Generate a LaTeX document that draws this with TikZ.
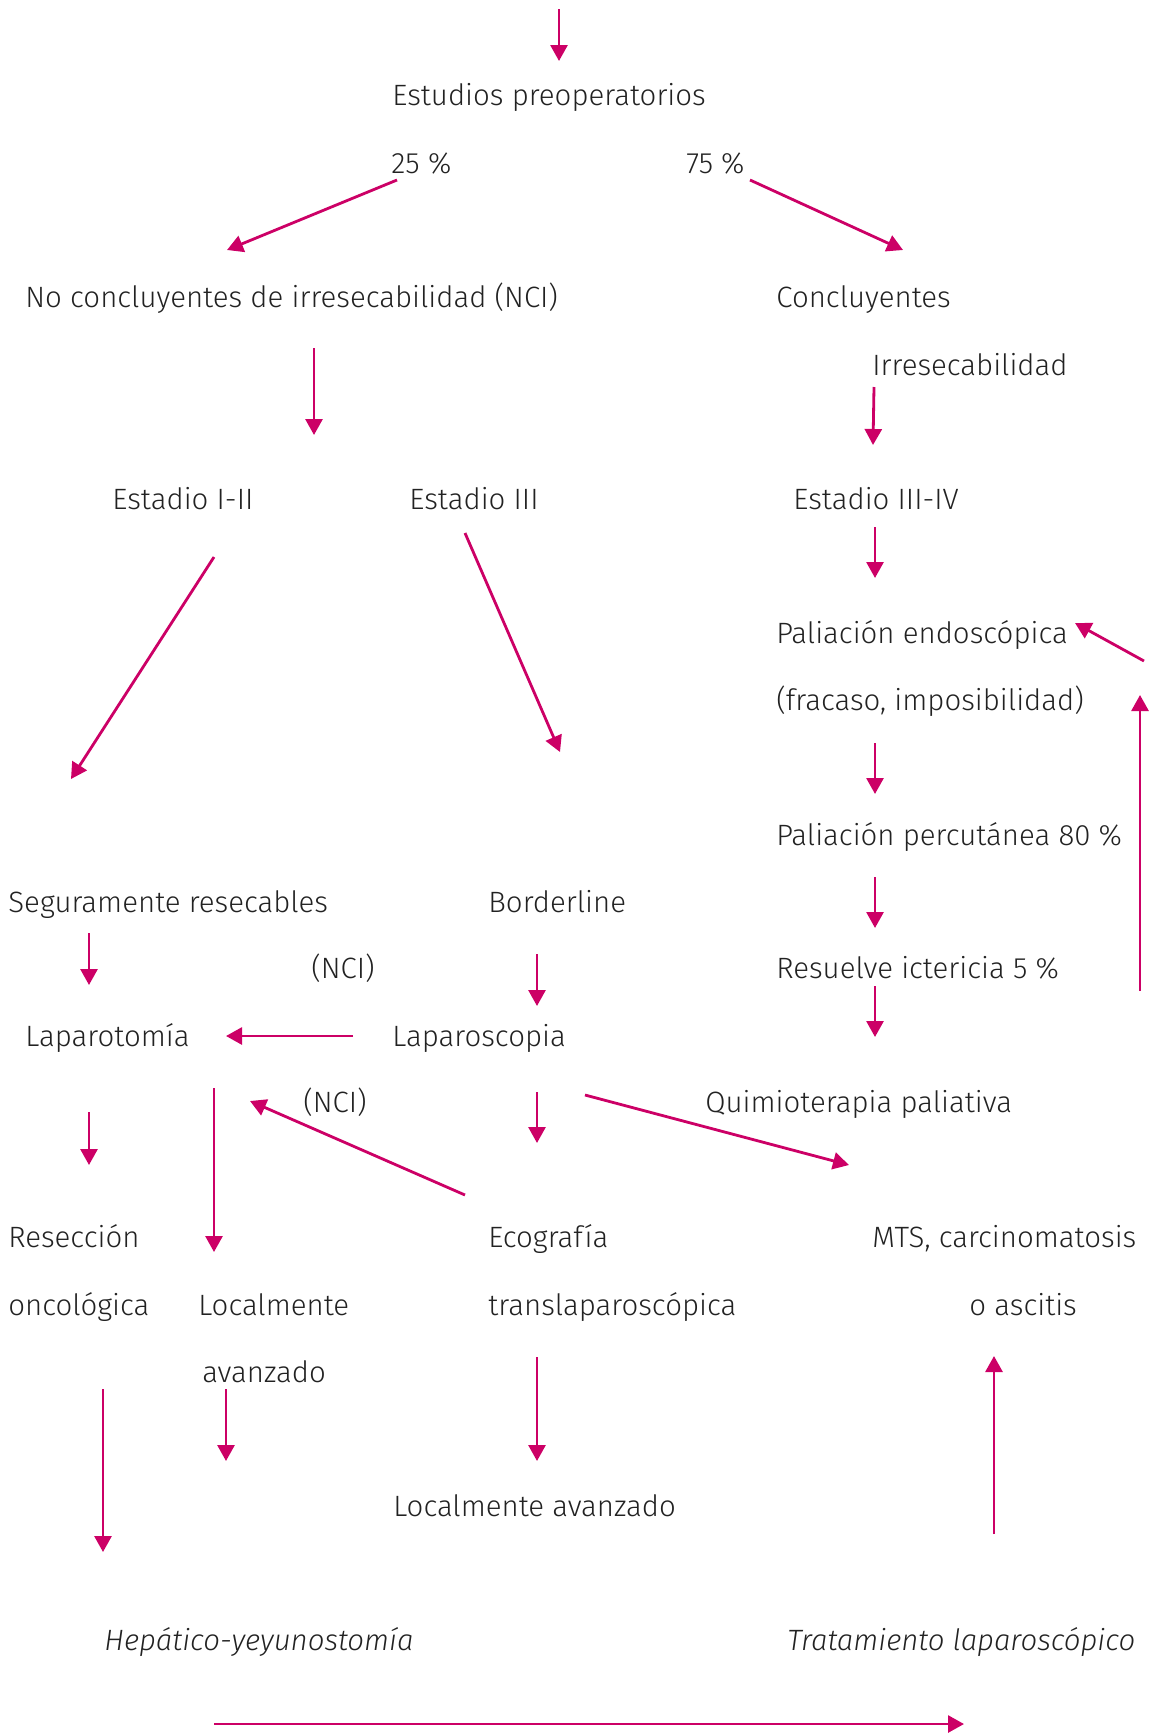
\documentclass[tikz,border=0pt]{standalone}
\usepackage{fontspec}
\setmainfont{Fira Sans Light}[ItalicFont={Fira Sans Light Italic}]
\usetikzlibrary{arrows.meta}
\definecolor{FlowRose}{HTML}{CC0066}
\definecolor{TextInk}{HTML}{222222}
\tikzset{>={Triangle[length=8pt,width=8.5pt]},flow/.style={draw=FlowRose,line width=1.4pt,->},
 lbl/.style={anchor=base west,inner sep=0pt,xshift=-1pt,text=TextInk,font=\fontsize{14.7}{18}\selectfont}}

\begin{document}
\begin{tikzpicture}[x=0.5pt,y=-0.5pt]
\useasboundingbox (0,0) rectangle (1150,1735);
% texts
\node[lbl] (est) at (394,105){Estudios preoperatorios};
\node[lbl] (p25) at (393,173){25 \%};\node[lbl] (p75) at (688,173){75 \%};
\node[lbl] (nci) at (27,307){No concluyentes de irresecabilidad (NCI)};
\node[lbl] (concl) at (778,307){Concluyentes};
\node[lbl] (irres) at (874,375){Irresecabilidad};
\node[lbl] (e12) at (114,509){Estadio I-II};\node[lbl] (e3) at (411,509){Estadio III};
\node[lbl] (e34) at (795,509){Estadio III-IV};
\node[lbl] (palend) at (778,643){Paliación endoscópica};
\node[lbl] (fracaso) at (778,710){(fracaso, imposibilidad)};
\node[lbl] (palperc) at (778,845){Paliación percutánea 80 \%};
\node[lbl] (segur) at (10,912){Seguramente resecables};\node[lbl] (border) at (490,912){Borderline};
\node[lbl] (ncia) at (313,978){(NCI)};\node[lbl] (resuel) at (778,978){Resuelve ictericia 5 \%};
\node[lbl] (lapt) at (27,1046){Laparotomía};\node[lbl] (lapsc) at (394,1046){Laparoscopia};
\node[lbl] (ncib) at (305,1112){(NCI)};\node[lbl] (quimio) at (707,1112){Quimioterapia paliativa};
\node[lbl] (resec) at (10,1247){Resección};\node[lbl] (eco) at (490,1247){Ecografía};
\node[lbl] (mts) at (874,1247){MTS, carcinomatosis};
\node[lbl] (onco) at (10,1315){oncológica};\node[lbl] (local) at (200,1315){Localmente};
\node[lbl] (transl) at (490,1315){translaparoscópica};\node[lbl] (ascit) at (971,1315){o ascitis};
\node[lbl] (avanz) at (204,1382){avanzado};
\node[lbl] (locav) at (395,1516){Localmente avanzado};
\node[lbl,font=\fontsize{14.7}{18}\selectfont\itshape] (hepat) at (106,1650){Hepático-yeyunostomía};
\node[lbl,font=\fontsize{14.7}{18}\selectfont\itshape] (tratam) at (789,1650){Tratamiento laparoscópico};
% connectors
\foreach \n/\xa/\ya/\xb/\yb in {1/559/9/559/61,2/397/180/227/250,3/750/180/903/250,
 4/314/348/314/435,5/874/387/873/445,6/214/557/71/779,7/465/533/560/752,
 8/875/527/875/578,9/1144/661/1075/623,10/1140/991/1140/695,11/875/743/875/794,
 12/875/877/875/928,13/89/933/89/985,14/537/954/537/1006,15/875/986/875/1037,
 16/353/1036/226/1036,17/214/1088/214/1252,18/465/1195/250/1101,19/537/1092/537/1143,
 20/585/1095/849/1165,21/89/1112/89/1165,22/103/1389/103/1552,23/226/1389/226/1461,
 24/537/1357/537/1461,25/994/1534/994/1356,26/214/1724/964/1724}
 {\coordinate (s\n) at (\xa,\ya);\coordinate (t\n) at (\xb,\yb);
  \draw[flow] (s\n)--(t\n);}
\end{tikzpicture}
\end{document}
